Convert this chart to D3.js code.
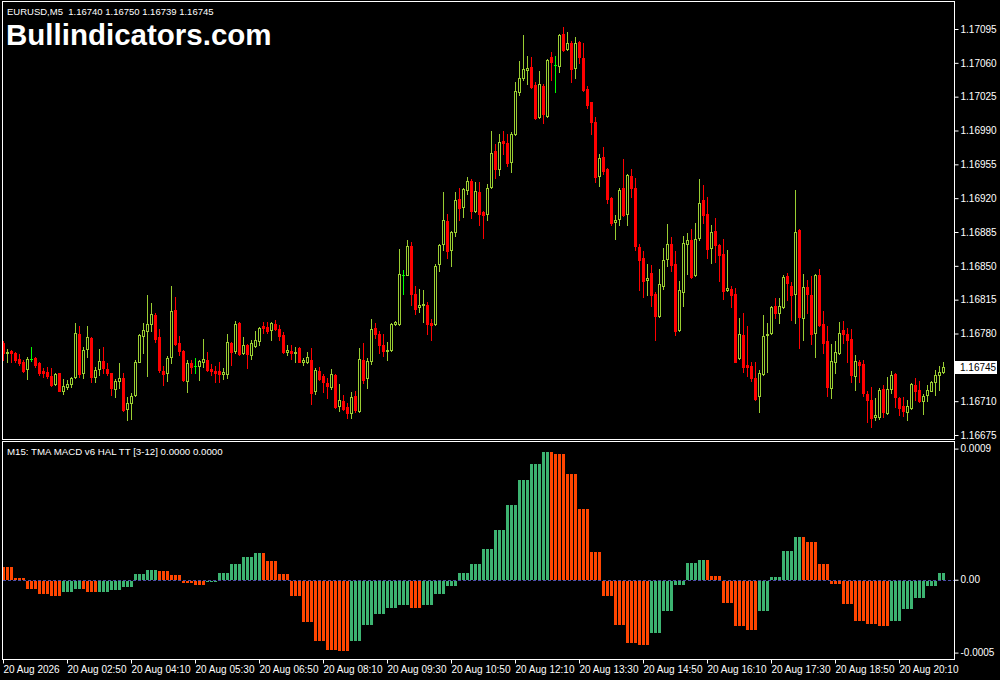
<!DOCTYPE html>
<html><head><meta charset="utf-8">
<script src="https://cdn.jsdelivr.net/npm/d3@7/dist/d3.min.js"></script>
<style>
html,body{margin:0;padding:0;background:#000;}
svg{display:block;}
text{font-family:"Liberation Sans",Arial,sans-serif;}
</style>
</head><body>
<svg id="chart" width="1000" height="680"></svg>
<script>
// ---------- DATA ----------
const symbolLabel = "EURUSD,M5  1.16740 1.16750 1.16739 1.16745";
const watermark = "Bullindicators.com";
const oscLabel = "M15: TMA MACD v6 HAL TT [3-12] 0.0000 0.0000";
const lastPrice = 1.16745;

const opens = [1.16770,1.16760,1.16762,1.16760,1.16754,1.16751,1.16743,1.16754,1.16755,1.16749,1.16741,1.16740,1.16736,1.16728,1.16739,1.16721,1.16725,1.16728,1.16735,1.16780,
1.16739,1.16764,1.16775,1.16735,1.16743,1.16752,1.16743,1.16739,1.16723,1.16731,1.16734,1.16702,1.16708,1.16716,1.16751,1.16777,1.16783,1.16790,1.16799,1.16776,
1.16741,1.16739,1.16756,1.16804,1.16770,1.16762,1.16731,1.16749,1.16746,1.16746,1.16750,1.16753,1.16743,1.16741,1.16741,1.16738,1.16738,1.16770,1.16762,1.16791,
1.16760,1.16768,1.16758,1.16767,1.16772,1.16788,1.16787,1.16784,1.16790,1.16785,1.16778,1.16761,1.16762,1.16760,1.16765,1.16750,1.16750,1.16753,1.16720,1.16741,
1.16736,1.16729,1.16725,1.16737,1.16705,1.16710,1.16704,1.16698,1.16715,1.16700,1.16753,1.16734,1.16752,1.16786,1.16780,1.16768,1.16762,1.16763,1.16790,1.16790,
1.16841,1.16841,1.16870,1.16821,1.16807,1.16809,1.16810,1.16791,1.16790,1.16852,1.16873,1.16896,1.16866,1.16885,1.16919,1.16911,1.16928,1.16938,1.16907,1.16926,
1.16906,1.16904,1.16932,1.16969,1.16950,1.16979,1.16977,1.16957,1.16986,1.17030,1.17044,1.17053,1.17056,1.17037,1.17004,1.17036,1.17005,1.17066,1.17058,1.17057,
1.17090,1.17074,1.17081,1.17055,1.17082,1.17065,1.17033,1.17019,1.16999,1.16943,1.16963,1.16950,1.16920,1.16895,1.16898,1.16930,1.16904,1.16943,1.16931,1.16869,
1.16858,1.16835,1.16843,1.16821,1.16798,1.16829,1.16857,1.16873,1.16852,1.16784,1.16823,1.16873,1.16877,1.16840,1.16879,1.16918,1.16904,1.16868,1.16886,1.16872,
1.16862,1.16825,1.16826,1.16821,1.16755,1.16778,1.16747,1.16746,1.16734,1.16715,1.16738,1.16778,1.16781,1.16808,1.16801,1.16807,1.16839,1.16829,1.16821,1.16887,
1.16796,1.16828,1.16820,1.16781,1.16841,1.16790,1.16772,1.16724,1.16750,1.16760,1.16784,1.16780,1.16774,1.16736,1.16751,1.16748,1.16717,1.16711,1.16694,1.16694,
1.16723,1.16698,1.16723,1.16738,1.16713,1.16705,1.16699,1.16703,1.16727,1.16722,1.16710,1.16716,1.16721,1.16730,1.16737,1.16740];

const highs = [1.16772,1.16764,1.16763,1.16761,1.16759,1.16753,1.16756,1.16766,1.16756,1.16750,1.16744,1.16745,1.16744,1.16739,1.16739,1.16733,1.16732,1.16735,1.16791,1.16788,
1.16766,1.16788,1.16776,1.16745,1.16764,1.16766,1.16749,1.16739,1.16733,1.16749,1.16739,1.16714,1.16718,1.16753,1.16779,1.16791,1.16820,1.16812,1.16801,1.16785,
1.16746,1.16757,1.16829,1.16818,1.16777,1.16763,1.16753,1.16753,1.16755,1.16753,1.16774,1.16761,1.16748,1.16746,1.16751,1.16744,1.16780,1.16771,1.16793,1.16792,
1.16776,1.16769,1.16773,1.16783,1.16787,1.16792,1.16792,1.16792,1.16794,1.16789,1.16782,1.16768,1.16768,1.16766,1.16766,1.16755,1.16761,1.16765,1.16744,1.16745,
1.16738,1.16734,1.16743,1.16738,1.16728,1.16716,1.16708,1.16719,1.16721,1.16765,1.16770,1.16755,1.16795,1.16791,1.16783,1.16780,1.16771,1.16791,1.16793,1.16867,
1.16846,1.16877,1.16875,1.16829,1.16826,1.16825,1.16813,1.16795,1.16852,1.16873,1.16926,1.16904,1.16886,1.16926,1.16930,1.16931,1.16942,1.16940,1.16937,1.16937,
1.16907,1.16935,1.16989,1.16976,1.16986,1.16990,1.16986,1.16988,1.17040,1.17062,1.17089,1.17067,1.17066,1.17040,1.17052,1.17038,1.17064,1.17071,1.17067,1.17090,
1.17097,1.17092,1.17083,1.17087,1.17083,1.17080,1.17036,1.17020,1.17004,1.16966,1.16973,1.16951,1.16921,1.16903,1.16930,1.16960,1.16945,1.16950,1.16941,1.16873,
1.16865,1.16852,1.16851,1.16823,1.16847,1.16868,1.16893,1.16880,1.16865,1.16834,1.16881,1.16884,1.16888,1.16894,1.16940,1.16934,1.16921,1.16892,1.16899,1.16873,
1.16878,1.16866,1.16829,1.16827,1.16796,1.16801,1.16788,1.16751,1.16751,1.16742,1.16799,1.16791,1.16808,1.16817,1.16817,1.16840,1.16843,1.16833,1.16928,1.16888,
1.16842,1.16835,1.16839,1.16842,1.16847,1.16803,1.16788,1.16769,1.16772,1.16792,1.16793,1.16786,1.16785,1.16758,1.16753,1.16753,1.16721,1.16725,1.16713,1.16724,
1.16727,1.16735,1.16741,1.16739,1.16714,1.16714,1.16711,1.16729,1.16734,1.16731,1.16717,1.16727,1.16731,1.16742,1.16746,1.16750];

const lows = [1.16753,1.16750,1.16750,1.16751,1.16747,1.16740,1.16733,1.16752,1.16745,1.16737,1.16735,1.16734,1.16726,1.16727,1.16720,1.16717,1.16723,1.16725,1.16734,1.16735,
1.16734,1.16756,1.16730,1.16730,1.16737,1.16739,1.16737,1.16716,1.16714,1.16724,1.16700,1.16690,1.16692,1.16715,1.16750,1.16760,1.16736,1.16783,1.16771,1.16740,
1.16727,1.16731,1.16749,1.16768,1.16758,1.16731,1.16719,1.16739,1.16739,1.16732,1.16745,1.16741,1.16737,1.16730,1.16730,1.16733,1.16734,1.16747,1.16760,1.16758,
1.16759,1.16744,1.16754,1.16766,1.16768,1.16781,1.16781,1.16773,1.16784,1.16773,1.16760,1.16758,1.16754,1.16751,1.16750,1.16747,1.16749,1.16707,1.16717,1.16732,
1.16719,1.16713,1.16723,1.16703,1.16700,1.16701,1.16693,1.16693,1.16699,1.16699,1.16729,1.16724,1.16748,1.16775,1.16760,1.16757,1.16753,1.16762,1.16789,1.16789,
1.16821,1.16840,1.16809,1.16800,1.16802,1.16792,1.16780,1.16773,1.16789,1.16845,1.16866,1.16858,1.16850,1.16881,1.16897,1.16901,1.16924,1.16899,1.16906,1.16892,
1.16879,1.16897,1.16931,1.16941,1.16944,1.16966,1.16953,1.16947,1.16985,1.17027,1.17042,1.17038,1.17034,1.17002,1.17003,1.16998,1.17004,1.17042,1.17030,1.17051,
1.17072,1.17073,1.17040,1.17044,1.17060,1.17031,1.17013,1.16986,1.16937,1.16933,1.16945,1.16915,1.16892,1.16878,1.16892,1.16902,1.16892,1.16921,1.16866,1.16825,
1.16818,1.16820,1.16808,1.16773,1.16797,1.16826,1.16850,1.16845,1.16778,1.16783,1.16808,1.16842,1.16837,1.16839,1.16877,1.16894,1.16858,1.16853,1.16854,1.16834,
1.16816,1.16824,1.16807,1.16750,1.16754,1.16740,1.16736,1.16731,1.16711,1.16699,1.16737,1.16740,1.16780,1.16796,1.16791,1.16806,1.16815,1.16794,1.16791,1.16765,
1.16773,1.16801,1.16769,1.16756,1.16788,1.16760,1.16715,1.16713,1.16739,1.16759,1.16770,1.16750,1.16730,1.16722,1.16730,1.16715,1.16688,1.16683,1.16690,1.16692,
1.16694,1.16697,1.16718,1.16704,1.16696,1.16695,1.16691,1.16702,1.16711,1.16709,1.16697,1.16710,1.16720,1.16716,1.16722,1.16739];

const closes = [1.16760,1.16761,1.16760,1.16753,1.16749,1.16741,1.16754,1.16754,1.16747,1.16739,1.16739,1.16736,1.16727,1.16738,1.16721,1.16726,1.16728,1.16734,1.16781,1.16738,
1.16763,1.16776,1.16735,1.16742,1.16752,1.16744,1.16739,1.16724,1.16731,1.16734,1.16701,1.16708,1.16715,1.16751,1.16778,1.16784,1.16790,1.16800,1.16774,1.16742,
1.16738,1.16755,1.16803,1.16769,1.16762,1.16732,1.16749,1.16745,1.16746,1.16752,1.16754,1.16742,1.16741,1.16739,1.16738,1.16740,1.16771,1.16761,1.16790,1.16759,
1.16768,1.16759,1.16770,1.16773,1.16786,1.16786,1.16783,1.16791,1.16785,1.16777,1.16761,1.16763,1.16760,1.16761,1.16751,1.16753,1.16756,1.16718,1.16742,1.16733,
1.16730,1.16726,1.16738,1.16704,1.16711,1.16702,1.16698,1.16714,1.16701,1.16754,1.16732,1.16752,1.16785,1.16780,1.16768,1.16762,1.16763,1.16790,1.16792,1.16842,
1.16841,1.16871,1.16821,1.16805,1.16809,1.16811,1.16790,1.16789,1.16850,1.16872,1.16897,1.16865,1.16885,1.16918,1.16910,1.16929,1.16938,1.16907,1.16927,1.16904,
1.16903,1.16931,1.16967,1.16950,1.16978,1.16977,1.16956,1.16986,1.17031,1.17044,1.17054,1.17055,1.17035,1.17003,1.17038,1.17007,1.17063,1.17061,1.17058,1.17089,
1.17073,1.17081,1.17054,1.17081,1.17066,1.17032,1.17016,1.16999,1.16942,1.16962,1.16948,1.16919,1.16894,1.16897,1.16928,1.16903,1.16944,1.16931,1.16870,1.16856,
1.16834,1.16837,1.16820,1.16798,1.16831,1.16856,1.16873,1.16851,1.16783,1.16825,1.16874,1.16877,1.16838,1.16878,1.16915,1.16903,1.16867,1.16885,1.16872,1.16861,
1.16824,1.16827,1.16820,1.16751,1.16779,1.16745,1.16745,1.16734,1.16712,1.16739,1.16777,1.16780,1.16807,1.16801,1.16808,1.16838,1.16832,1.16820,1.16885,1.16797,
1.16828,1.16821,1.16779,1.16841,1.16789,1.16770,1.16725,1.16752,1.16761,1.16781,1.16780,1.16773,1.16737,1.16752,1.16747,1.16718,1.16711,1.16693,1.16696,1.16722,
1.16699,1.16723,1.16737,1.16714,1.16703,1.16700,1.16705,1.16728,1.16721,1.16710,1.16715,1.16722,1.16730,1.16737,1.16740,1.16745];

// M15 oscillator histogram: one value per 3 M5 candles
const histValues = [0.000085,0.000014,-0.000060,-0.000094,-0.000108,-0.000080,-0.000060,-0.000080,-0.000080,-0.000066,
-0.000046,0.000041,0.000069,0.000062,0.000034,-0.000018,-0.000032,-0.000011,0.000048,0.000110,
0.000158,0.000185,0.000131,0.000041,-0.000108,-0.000282,-0.000412,-0.000474,-0.000481,-0.000412,
-0.000302,-0.000227,-0.000190,-0.000165,-0.000190,-0.000165,-0.000089,-0.000034,0.000048,0.000110,
0.000213,0.000344,0.000515,0.000687,0.000797,0.000879,0.000866,0.000728,0.000488,0.000192,
-0.000103,-0.000307,-0.000430,-0.000444,-0.000357,-0.000211,-0.000032,0.000117,0.000137,0.000027,
-0.000156,-0.000314,-0.000341,-0.000211,0.000021,0.000199,0.000295,0.000261,0.000110,-0.000025,
-0.000163,-0.000273,-0.000300,-0.000314,-0.000279,-0.000197,-0.000115,-0.000039,0.000048];
// colour of each M5 bar inside each M15 group (g = rising, r = falling)
const histColorGroups = ["rrr","rrr","rrr","rrr","rrr","ggg","ggr","rrr","ggg","ggg",
"ggg","ggg","ggg","rrr","rrr","rrr","rrr","ggg","ggg","ggg",
"ggg","ggr","rrr","rrr","rrr","rrr","rrr","rrr","rrr","ggg",
"ggg","ggg","ggg","ggg","rrr","ggg","ggg","ggg","ggg","ggg",
"ggg","ggg","ggg","ggg","ggg","ggr","rrr","rrr","rrr","rrr",
"rrr","rrr","rrr","rrr","ggg","ggg","ggg","ggg","ggr","rrr",
"rrr","rrr","rrr","ggg","ggg","ggg","ggr","rrr","rrr","rrr",
"rrr","rrr","rrr","rrr","ggg","ggg","ggg","ggg","gg"];

const timeTickIndex = [0,16,32,48,64,80,96,112,128,144,160,176,192,208,224];
const timeLabels = ["20 Aug 2026","20 Aug 02:50","20 Aug 04:10","20 Aug 05:30","20 Aug 06:50","20 Aug 08:10","20 Aug 09:30","20 Aug 10:50","20 Aug 12:10","20 Aug 13:30","20 Aug 14:50","20 Aug 16:10","20 Aug 17:30","20 Aug 18:50","20 Aug 20:10"];
const priceTicks = [1.17095,1.17060,1.17025,1.16990,1.16955,1.16920,1.16885,1.16850,1.16815,1.16780,1.16745,1.16710,1.16675];
const oscTicks = [0.0009,0,-0.0005];
const oscTickLabels = ["0.0009","0.00","-0.0005"];

// ---------- STYLE ----------
const C = {bg:"#000000", frame:"#ffffff", text:"#ffffff", bull:"#9acd32", bear:"#ff0000", doji:"#00ff00",
  up:"#3cb371", down:"#ff4500", zero:"#4b4ba8"};

// ---------- DRAW ----------
const svg = d3.select("#chart");
svg.append("rect").attr("width",1000).attr("height",680).attr("fill",C.bg);

const n = opens.length;
const x = d3.scaleLinear().domain([0, n-1]).range([3, 3 + 4*(n-1)]);
const y = d3.scaleLinear().domain([1.16675, 1.17095]).range([435, 29]);
const ys = d3.scaleLinear().domain([-0.0005, 0.0009]).range([652.6, 448.6]);

const defs = svg.append("defs");
defs.append("clipPath").attr("id","cm").append("rect").attr("x",3).attr("y",2).attr("width",951).attr("height",437);
defs.append("clipPath").attr("id","cs").append("rect").attr("x",3).attr("y",442).attr("width",951).attr("height",217);

// candles
const gC = svg.append("g").attr("clip-path","url(#cm)");
for (let i=0;i<n;i++){
  const o=opens[i], c=closes[i], h=highs[i], l=lows[i];
  const L = Math.round(x(i)) - 1;
  const yH = Math.round(y(h)), yL = Math.round(y(l));
  const yT = Math.round(y(Math.max(o,c))), yB = Math.round(y(Math.min(o,c)));
  const col = c>o ? C.bull : (c<o ? C.bear : C.doji);
  gC.append("line").attr("x1",L+1.5).attr("x2",L+1.5).attr("y1",yH).attr("y2",yL+1)
    .attr("stroke",col).attr("stroke-width",1);
  if (c>o){
    gC.append("rect").attr("x",L+0.5).attr("y",yT+0.5).attr("width",2).attr("height",Math.max(yB-yT,0))
      .attr("fill","#000").attr("stroke",C.bull).attr("stroke-width",1);
  } else if (c<o){
    gC.append("rect").attr("x",L).attr("y",yT).attr("width",3).attr("height",Math.max(yB-yT,1)+1)
      .attr("fill",C.bear);
  } else {
    gC.append("line").attr("x1",L).attr("x2",L+3).attr("y1",yT+0.5).attr("y2",yT+0.5)
      .attr("stroke",C.doji).attr("stroke-width",1);
  }
}

// oscillator
const gS = svg.append("g").attr("clip-path","url(#cs)");
const y0 = Math.round(ys(0));
gS.append("line").attr("x1",3).attr("x2",954).attr("y1",y0+0.5).attr("y2",y0+0.5)
  .attr("stroke",C.zero).attr("stroke-dasharray","3,2");
const bars = d3.range(n).map(i=>({i, v:histValues[Math.floor(i/3)], c:histColorGroups[Math.floor(i/3)][i%3]}));
gS.selectAll("rect.h").data(bars).join("rect").attr("class","h")
  .attr("x",d=>Math.round(x(d.i))-1)
  .attr("width",3)
  .attr("y",d=> d.v>=0 ? Math.round(ys(d.v)) : y0+1)
  .attr("height",d=> Math.max(1, Math.abs(Math.round(ys(d.v)) - y0)))
  .attr("fill",d=> d.c==="g" ? C.up : C.down);

// frames
svg.append("rect").attr("x",2.5).attr("y",1.5).attr("width",952).attr("height",438)
  .attr("fill","none").attr("stroke",C.frame);
svg.append("rect").attr("x",2.5).attr("y",441.5).attr("width",952).attr("height",218)
  .attr("fill","none").attr("stroke",C.frame);

// price axis
const axP = svg.append("g").attr("transform","translate(954.5,0)")
  .call(d3.axisRight(y).tickValues(priceTicks).tickSize(4).tickPadding(2).tickFormat(d3.format(".5f")));
axP.select(".domain").remove();
axP.selectAll("line").attr("stroke",C.frame);
axP.selectAll("text").attr("fill",C.text).style("font-size","10px").style("font-family","Liberation Sans, Arial, sans-serif");

// last price marker
const yl = y(lastPrice);
svg.append("rect").attr("x",955).attr("y",Math.round(yl)-6).attr("width",42).attr("height",13).attr("fill","#fff");
svg.append("text").attr("x",960).attr("y",yl).attr("dy","0.35em").attr("fill","#000")
  .style("font-size","10px").text(d3.format(".5f")(lastPrice));

// oscillator axis
const axO = svg.append("g").attr("transform","translate(954.5,0)")
  .call(d3.axisRight(ys).tickValues(oscTicks).tickSize(4).tickPadding(2).tickFormat((d,i)=>oscTickLabels[i]));
axO.select(".domain").remove();
axO.selectAll("line").attr("stroke",C.frame);
axO.selectAll("text").attr("fill",C.text).style("font-size","10px").style("font-family","Liberation Sans, Arial, sans-serif");

// time axis
const axT = svg.append("g").attr("transform","translate(0,659.5)")
  .call(d3.axisBottom(x).tickValues(timeTickIndex).tickSize(4).tickFormat((d,i)=>timeLabels[i]));
axT.select(".domain").remove();
axT.selectAll("line").attr("stroke",C.frame);
axT.selectAll("text").attr("fill",C.text).attr("text-anchor","start").attr("x",0).attr("y",6)
  .style("font-size","10px").style("font-family","Liberation Sans, Arial, sans-serif");

// labels
svg.append("text").attr("x",7).attr("y",14.5).attr("fill",C.text).style("font-size","9.5px").style("white-space","pre").text(symbolLabel);
svg.append("text").attr("x",6).attr("y",45).attr("fill","#fff").style("font-size","29.5px").style("font-weight","bold").text(watermark);
svg.append("text").attr("x",7).attr("y",454.5).attr("fill",C.text).style("font-size","9.7px").text(oscLabel);
</script>
</body></html>
